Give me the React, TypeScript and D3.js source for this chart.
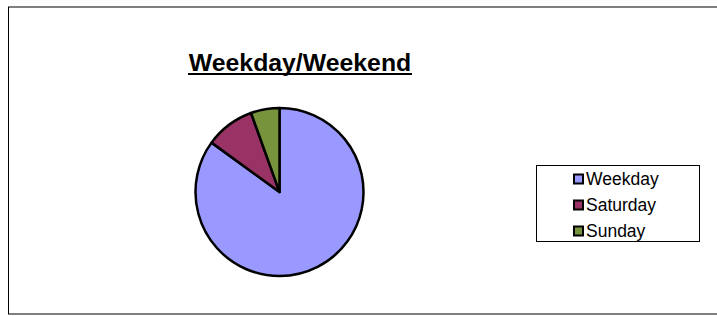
import React from 'react';
import * as d3 from 'd3';

const categories = ['Weekday', 'Saturday', 'Sunday'];
const values = [85, 9.5, 5.5];
const colors = ['#9999FF', '#993366', '#77933C'];
const title = 'Weekday/Weekend';

const W = 717;
const H = 316;

const App: React.FC = () => {
  const cx = 279.5;
  const cy = 192;
  const r = 84;

  const pie = d3.pie<number>().sort(null).value(d => d);
  // Excel starts at 12 o'clock, clockwise
  const arcs = pie(values);
  const arc = d3.arc<d3.PieArcDatum<number>>().innerRadius(0).outerRadius(r);

  const legendY = d3.scalePoint<string>().domain(categories).range([179, 231]);

  return (
    <svg width={W} height={H} style={{ position: 'absolute', left: 0, top: 0, fontFamily: 'Liberation Sans, Arial, sans-serif' }}>
      <rect x={0} y={0} width={W} height={H} fill="#fff" />
      {/* chart frame */}
      <rect x={8.5} y={7} width={W + 10} height={307} fill="none" stroke="#000" strokeWidth={1} />

      {/* title */}
      <text x={300} y={70.5} textAnchor="middle" fontSize={24.8} fontWeight="bold" fill="#000">
        {title}
      </text>
      <line x1={188} x2={412} y1={74} y2={74} stroke="#000" strokeWidth={2} />

      {/* pie */}
      <g transform={`translate(${cx},${cy})`}>
        {arcs.map((a, i) => (
          <path key={categories[i]} d={arc(a) || ''} fill={colors[i]} stroke="#000" strokeWidth={2.5} strokeLinejoin="round" />
        ))}
      </g>

      {/* legend */}
      <rect x={536.5} y={165.5} width={163} height={76} fill="#fff" stroke="#000" strokeWidth={1} />
      {categories.map((c, i) => {
        const y = legendY(c) || 0;
        return (
          <g key={c}>
            <rect x={574} y={y - 4.5} width={9} height={9} fill={colors[i]} stroke="#000" strokeWidth={2} />
            <text x={586} y={y + 6} fontSize={17.5} fill="#000">{c}</text>
          </g>
        );
      })}
    </svg>
  );
};

export default App;
